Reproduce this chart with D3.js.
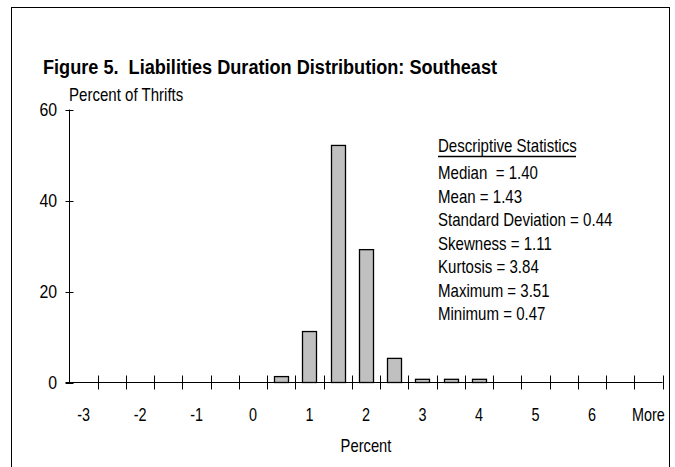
<!DOCTYPE html>
<head>
    <meta charset="utf-8">
    <script src="https://d3js.org/d3.v7.min.js"></script>
    <style>
        body { margin: 0; background: #fff; }
        text { font-family: "Liberation Sans", Arial, sans-serif; fill: #000; white-space: pre; }
    </style>
</head>
<body>
<script>
    // histogram bins (Excel style) and share of thrifts in each
    const bins = ["-3", "-2.5", "-2", "-1.5", "-1", "-0.5", "0", "0.5", "1", "1.5", "2",
        "2.5", "3", "3.5", "4", "4.5", "5", "5.5", "6", "6.5", "More"];
    const pct = [0, 0, 0, 0, 0, 0, 0, 1.3, 11.2, 52.1, 29.2, 5.3, 0.7, 0.7, 0.7, 0, 0, 0, 0, 0, 0];
    const yTicks = [0, 20, 40, 60];
    const stats = ["Median  = 1.40", "Mean = 1.43", "Standard Deviation = 0.44", "Skewness = 1.11",
        "Kurtosis = 3.84", "Maximum = 3.51", "Minimum = 0.47"];

    const width = 675, height = 467;
    const x0 = 69.5, x1 = 662.5, yTop = 109.5, yBase = 382.5;

    const svg = d3.select("body").append("svg")
        .attr("width", width)
        .attr("height", height);

    // narrow-looking text: regular font squeezed horizontally
    function txt(x, y, s, size, sx, anchor, weight) {
        return svg.append("text")
            .attr("transform", "translate(" + x + "," + y + ") scale(" + sx + ",1)")
            .attr("text-anchor", anchor || "start")
            .style("font-size", size + "px")
            .style("font-weight", weight || "normal")
            .text(s);
    }

    // outer frame
    svg.append("rect")
        .attr("x", 11.5).attr("y", 7.5)
        .attr("width", 658).attr("height", 470)
        .attr("fill", "none").attr("stroke", "#000");

    svg.append("text")
        .attr("x", 43).attr("y", 74)
        .attr("textLength", 454).attr("lengthAdjust", "spacingAndGlyphs")
        .style("font-size", "20px").style("font-weight", "bold")
        .text("Figure 5.  Liabilities Duration Distribution: Southeast");

    const x = d3.scaleBand().domain(bins).range([x0, x1]).paddingInner(0.5).paddingOuter(0.25);
    const y = d3.scaleLinear().domain([0, 60]).range([yBase, yTop]);
    const step = x.step();

    // bars
    svg.selectAll("rect.bar")
        .data(bins.map((b, i) => ({ b: b, v: pct[i] })).filter(d => d.v > 0))
        .enter().append("rect")
        .attr("class", "bar")
        .attr("x", d => Math.round(x(d.b)) + 0.5)
        .attr("y", d => y(d.v))
        .attr("width", Math.round(x.bandwidth()))
        .attr("height", d => yBase - y(d.v))
        .attr("fill", "#c0c0c0")
        .attr("stroke", "#000")
        .attr("stroke-width", 1.3);

    // y axis
    svg.append("line")
        .attr("x1", x0).attr("x2", x0).attr("y1", yTop).attr("y2", yBase)
        .attr("stroke", "#000");
    svg.selectAll("line.yt").data(yTicks).enter().append("line")
        .attr("x1", x0 - 4).attr("x2", x0 + 4)
        .attr("y1", d => Math.round(y(d)) + 0.5).attr("y2", d => Math.round(y(d)) + 0.5)
        .attr("stroke", "#000");
    yTicks.forEach(d => txt(57, y(d) + 6.5, String(d), 18, 0.88, "end"));

    txt(69, 101, "Percent of Thrifts", 17.5, 0.86);

    // x axis
    svg.append("line")
        .attr("x1", x0 - 4).attr("x2", x1).attr("y1", yBase).attr("y2", yBase)
        .attr("stroke", "#000");
    const tickPos = bins.map(b => x(b) - (step - x.bandwidth()) / 2).concat([x1]);
    svg.selectAll("line.xt").data(tickPos.slice(1)).enter().append("line")
        .attr("x1", d => Math.round(d) + 0.5).attr("x2", d => Math.round(d) + 0.5)
        .attr("y1", yBase - 7).attr("y2", yBase + 7)
        .attr("stroke", "#000");
    bins.filter((b, i) => i % 2 === 0)
        .forEach(b => txt(x(b) + x.bandwidth() / 2, 421, b, 18, 0.8, "middle"));

    txt((x0 + x1) / 2, 452, "Percent", 18, 0.82, "middle");

    // descriptive statistics box
    const sx = 438;
    txt(sx, 152, "Descriptive Statistics", 17.5, 0.86);
    svg.append("line")
        .attr("x1", sx).attr("x2", 576).attr("y1", 156.5).attr("y2", 156.5)
        .attr("stroke", "#000").attr("stroke-width", 1.5);
    stats.forEach((s, i) => txt(sx, 179 + i * 23.5, s, 17.5, 0.86));
</script>
</body>
